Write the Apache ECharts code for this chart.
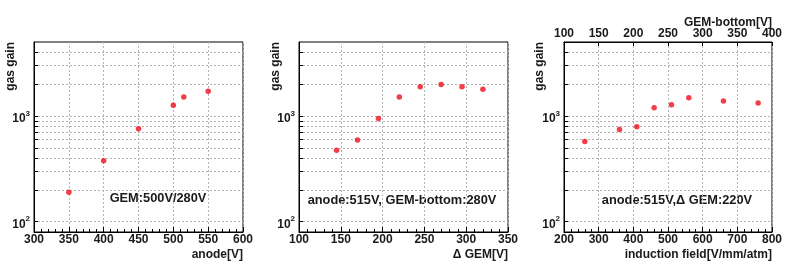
<!DOCTYPE html>
<html>
<head>
<meta charset="utf-8">
<script src="https://cdn.jsdelivr.net/npm/echarts@6/dist/echarts.min.js"></script>
<style>
html,body{margin:0;padding:0;background:#fff;}
#c{width:799px;height:272px;}
</style>
</head>
<body>
<div id="c"></div>
<script>
// ---- data ----
var anodeV   = [350, 400, 450, 500, 515, 550];
var anodeGain = [190, 378, 755, 1259, 1507, 1715];

var dGemV    = [145, 170, 195, 220, 245, 270, 295, 320];
var dGemGain = [473, 592, 944, 1507, 1884, 1982, 1884, 1791];

var inductionField = [260, 360, 410, 460, 510, 560, 660, 760];
var inductionGain  = [574, 745, 789, 1197, 1277, 1485, 1381, 1324];

var yGridValues  = [100, 200, 300, 400, 500, 600, 700, 800, 900, 1000, 2000, 3000, 4000];
var yLabelValues = [100, 1000];

var panelTexts = ['GEM:500V/280V', 'anode:515V, GEM-bottom:280V', 'anode:515V,\u0394 GEM:220V'];

// ---- chart ----
var FONT = 'Liberation Sans, Arial, Helvetica, sans-serif';
var chart = echarts.init(document.getElementById('c'), null, {renderer: 'canvas'});

var grids = [
  {left: 34, top: 42, width: 209, height: 190},
  {left: 299, top: 42, width: 209, height: 190},
  {left: 564, top: 42, width: 208, height: 190}
];

function gridOpt(g) {
  return Object.assign({show: true, borderColor: '#000', borderWidth: 1, backgroundColor: '#fff'}, g);
}

var gridLine = {show: true, lineStyle: {color: '#b4b4b4', type: [2, 2], width: 1}};
var labelStyle = {color: '#1a1a1a', fontFamily: FONT, fontWeight: 'bold', fontSize: 12};

function xAxisOpt(idx, min, max, interval) {
  return {
    type: 'value', gridIndex: idx, position: 'bottom', min: min, max: max, interval: interval,
    axisLine: {show: true, onZero: false, lineStyle: {color: '#000', width: 1}},
    axisTick: {show: true, inside: true, length: 5, lineStyle: {color: '#000'}},
    minorTick: {show: true, splitNumber: 5, length: 3, lineStyle: {color: '#000'}},
    axisLabel: Object.assign({margin: 2}, labelStyle),
    splitLine: gridLine
  };
}

function yAxisOpt(idx) {
  return {
    type: 'log', logBase: 10, gridIndex: idx, min: 80, max: 5000,
    axisLine: {show: true, onZero: false, lineStyle: {color: '#000', width: 1}},
    axisTick: {show: true, inside: true, length: 4, customValues: yGridValues, lineStyle: {color: '#000'}},
    axisLabel: Object.assign({
      margin: 4,
      customValues: yLabelValues,
      formatter: function (v) {
        var e = Math.round(Math.log(v) / Math.LN10);
        return '{a|10}{s|' + e + '}';
      },
      rich: {
        a: {fontFamily: FONT, fontWeight: 'bold', fontSize: 12, color: '#1a1a1a', padding: [5, 0, 0, 0]},
        s: {fontFamily: FONT, fontWeight: 'bold', fontSize: 8, color: '#1a1a1a', padding: [0, 0, 5, 0]}
      }
    }, labelStyle),
    splitLine: gridLine
  };
}

var xAxes = [
  xAxisOpt(0, 300, 600, 50),
  xAxisOpt(1, 100, 350, 50),
  xAxisOpt(2, 200, 800, 100),
  {
    type: 'value', gridIndex: 2, position: 'top', min: 100, max: 400, interval: 50,
    axisLine: {show: true, onZero: false, lineStyle: {color: '#000', width: 1}},
    axisTick: {show: true, inside: true, length: 4, lineStyle: {color: '#000'}},
    axisLabel: Object.assign({margin: 2}, labelStyle),
    splitLine: {show: false}
  }
];

var yAxes = [yAxisOpt(0), yAxisOpt(1), yAxisOpt(2)];

function zip(xs, ys) { return xs.map(function (x, i) { return [x, ys[i]]; }); }

var dot = {color: '#ec0f1c'};
var series = [
  {type: 'scatter', xAxisIndex: 0, yAxisIndex: 0, data: zip(anodeV, anodeGain), symbolSize: 5.5, itemStyle: dot, silent: true},
  {type: 'scatter', xAxisIndex: 1, yAxisIndex: 1, data: zip(dGemV, dGemGain), symbolSize: 5.5, itemStyle: dot, silent: true},
  {type: 'scatter', xAxisIndex: 2, yAxisIndex: 2, data: zip(inductionField, inductionGain), symbolSize: 5.5, itemStyle: dot, silent: true}
];

function txt(x, y, s, align, size, rot) {
  return {
    type: 'text', x: x, y: y, rotation: rot || 0, silent: true,
    style: {text: s, fill: '#1a1a1a', font: 'bold ' + (size || 12) + 'px ' + FONT, textAlign: align || 'right', textVerticalAlign: 'middle'}
  };
}

var graphics = [
  txt(10.5, 42, 'gas gain', 'right', 12, Math.PI / 2),
  txt(276, 42, 'gas gain', 'right', 12, Math.PI / 2),
  txt(540, 42, 'gas gain', 'right', 12, Math.PI / 2),
  txt(243, 255, 'anode[V]', 'right'),
  txt(508, 255, '\u0394 GEM[V]', 'right'),
  txt(772, 255, 'induction field[V/mm/atm]', 'right'),
  txt(772, 23, 'GEM-bottom[V]', 'right'),
  txt(158, 198, panelTexts[0], 'center', 12.8),
  txt(402, 200, panelTexts[1], 'center', 12.8),
  txt(677, 200, panelTexts[2], 'center', 12.8)
];

chart.setOption({
  backgroundColor: '#fff',
  animation: false,
  grid: grids.map(gridOpt),
  xAxis: xAxes,
  yAxis: yAxes,
  series: series,
  graphic: graphics
});
</script>
</body>
</html>
